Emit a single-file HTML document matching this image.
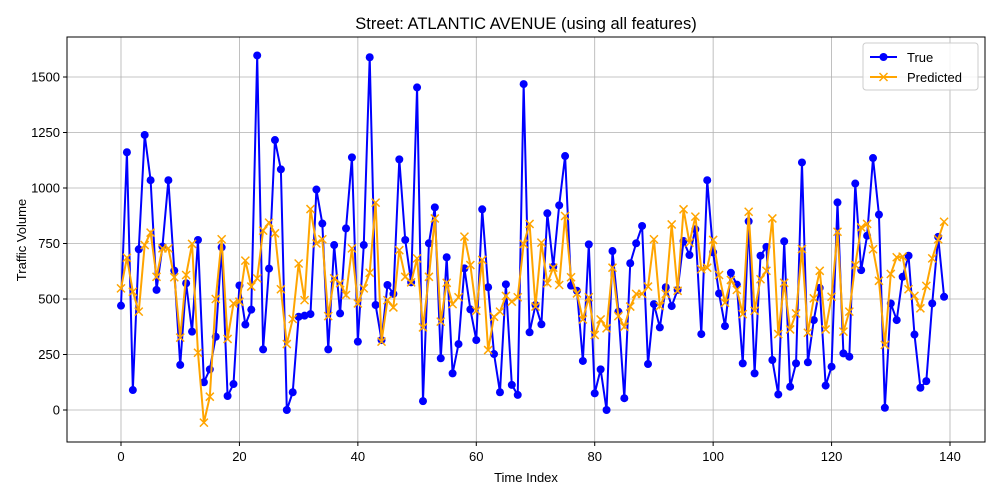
<!DOCTYPE html>
<html><head><meta charset="utf-8"><style>
html,body{margin:0;padding:0;background:#fff;}
svg{display:block;font-family:"Liberation Sans","DejaVu Sans",sans-serif;}
</style></head><body>
<svg id="chart" width="1000" height="500" viewBox="0 0 1000 500" xmlns="http://www.w3.org/2000/svg">
<rect x="0" y="0" width="1000" height="500" fill="#fff"/>
<text x="526" y="29" font-size="16.5" text-anchor="middle" fill="#000">Street: ATLANTIC AVENUE (using all features)</text>
<g id="grid"></g>
<g id="series"></g>
<rect x="67" y="37" width="918" height="405" fill="none" stroke="#000" stroke-width="1"/>
<g id="ticks"></g>
<text x="526" y="482" font-size="13" text-anchor="middle">Time Index</text>
<text x="26" y="240" font-size="13" text-anchor="middle" transform="rotate(-90 26 240)">Traffic Volume</text>
<g>
<rect x="863" y="43" width="115" height="47" rx="3" fill="#fff" fill-opacity="0.85" stroke="#ccc"/>
<line x1="870" y1="57" x2="897" y2="57" stroke="#0000ff" stroke-width="2"/>
<circle cx="883.5" cy="57" r="4" fill="#0000ff"/>
<text x="907" y="62" font-size="13">True</text>
<line x1="870" y1="77" x2="897" y2="77" stroke="#ffa500" stroke-width="2"/>
<path d="M879.5 73 L887.5 81 M887.5 73 L879.5 81" stroke="#ffa500" stroke-width="1.5"/>
<text x="907" y="82" font-size="13">Predicted</text>
</g>
</svg>
<script>
const trueValues=[470,1161,90,724,1239,1035,541,736,1035,628,203,571,353,766,125,183,330,733,63,117,561,385,452,1597,273,637,1216,1084,0,80,420,425,432,993,840,273,743,435,818,1138,308,743,1589,473,315,563,523,1129,766,575,1453,40,751,913,233,688,165,297,638,453,315,904,553,252,80,566,113,68,1468,350,473,386,886,645,922,1144,560,537,221,746,75,183,0,716,443,53,661,751,829,207,477,372,553,468,541,761,698,814,342,1035,710,525,378,618,565,210,850,165,695,735,225,70,760,105,210,1115,215,405,550,110,195,935,255,240,1020,630,785,1135,880,10,480,405,600,695,340,100,130,480,780,510];
const predValues=[548,686,533,443,743,799,600,728,728,598,326,608,748,258,-57,60,500,769,320,480,488,673,556,593,808,844,796,544,297,410,660,495,905,750,769,423,593,571,518,728,480,548,618,934,308,495,462,720,600,575,683,372,600,863,398,573,477,508,781,653,447,676,270,420,443,514,488,508,748,838,466,754,571,641,563,874,598,525,408,508,338,408,368,641,423,375,466,523,523,556,769,468,523,836,537,904,754,871,634,641,766,608,483,586,541,432,893,447,589,627,863,342,573,363,435,725,348,503,627,363,510,803,353,443,653,823,838,724,582,293,613,688,691,544,514,458,559,683,769,848];
const xTicks=[0,20,40,60,80,100,120,140];
const yTicks=[0,250,500,750,1000,1250,1500];
const NS="http://www.w3.org/2000/svg";
function xs(v){return 121+v*(829/140);}
function ys(v){return 410-v*(333/1500);}
function mk(tag,attrs,parent){const e=document.createElementNS(NS,tag);for(const k in attrs)e.setAttribute(k,attrs[k]);parent.appendChild(e);return e;}
const grid=document.getElementById('grid'),ticks=document.getElementById('ticks'),series=document.getElementById('series');
xTicks.forEach(t=>{
  const x=xs(t);
  const g=mk('line',{x1:x,y1:37,x2:x,y2:442,stroke:'#b0b0b0','stroke-width':0.8},grid);
  
  
  mk('line',{x1:x,y1:442,x2:x,y2:446,stroke:'#000'},ticks);
  const l=mk('text',{x:x,y:461,'font-size':13,'text-anchor':'middle'},ticks);
  l.textContent=t;
  
  
});
yTicks.forEach(t=>{
  const y=ys(t);
  const g=mk('line',{x1:67,y1:y,x2:985,y2:y,stroke:'#b0b0b0','stroke-width':0.8},grid);
  
  
  mk('line',{x1:63,y1:y,x2:67,y2:y,stroke:'#000'},ticks);
  const l=mk('text',{x:60,y:y+4.5,'font-size':13,'text-anchor':'end'},ticks);
  l.textContent=t;
  
  
});
const tl=mk('polyline',{points:trueValues.map((v,i)=>xs(i)+','+ys(v)).join(' '),fill:'none',stroke:'#0000ff','stroke-width':2},series);


trueValues.forEach((v,i)=>{
  const c=mk('circle',{cx:xs(i),cy:ys(v),r:4,fill:'#0000ff'},series);
  
  
});
const pl=mk('polyline',{points:predValues.map((v,i)=>xs(i)+','+ys(v)).join(' '),fill:'none',stroke:'#ffa500','stroke-width':2},series);


predValues.forEach((v,i)=>{
  const x=xs(i),y=ys(v);
  const m=mk('path',{d:`M${x-4} ${y-4}L${x+4} ${y+4}M${x+4} ${y-4}L${x-4} ${y+4}`,stroke:'#ffa500','stroke-width':1.5},series);
  
  
});
</script>
</body></html>
